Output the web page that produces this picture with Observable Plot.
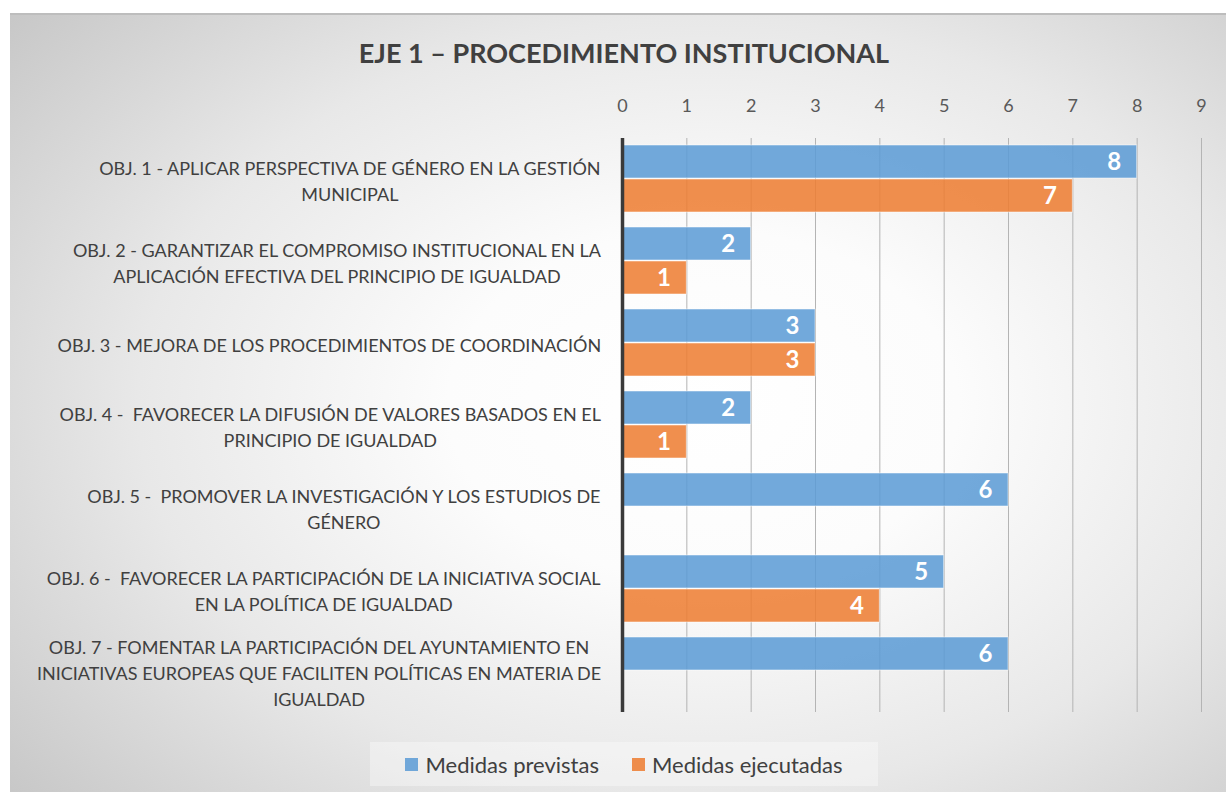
<!DOCTYPE html>
<html>
<head>
<meta charset="utf-8">
<script src="https://cdn.jsdelivr.net/npm/d3@7"></script>
<script src="https://cdn.jsdelivr.net/npm/@observablehq/plot@0.6"></script>
<style>
  html, body { margin: 0; padding: 0; background: #fff; }
  body { width: 1226px; height: 792px; position: relative; overflow: hidden; font-family: Lato, "Open Sans", sans-serif; }
  #frame { position: absolute; left: 10px; top: 13px; width: 1216px; height: 779px;
    border-top: 2px solid #bdbdbd;
    background: radial-gradient(ellipse 75% 80% at 57% 50%, #ffffff 0%, #fcfcfc 28%, #e8e8e8 62%, #c6c6c6 100%); }
  #title { position: absolute; left: 0; width: 1248px; top: 36px; text-align: center; font-weight: bold; font-size: 27px; color: #404040; }
  #chart { position: absolute; left: 0; top: 0; }
  #legend { position: absolute; left: 370px; top: 742px; width: 508px; height: 44px; background: rgba(255,255,255,0.35);
    display: flex; align-items: center; justify-content: center; gap: 33px; font-size: 22px; color: #404040; }
  .item { display: flex; align-items: center; gap: 7px; }
  .sw { width: 13px; height: 13px; }
</style>
</head>
<body>
<div id="frame"></div>
<div id="title">EJE 1 – PROCEDIMIENTO INSTITUCIONAL</div>
<div id="chart"></div>
<div id="legend"></div>
<script>
const categories = [
  "OBJ. 1 - APLICAR PERSPECTIVA DE GÉNERO EN LA GESTIÓN\nMUNICIPAL",
  "OBJ. 2 - GARANTIZAR EL COMPROMISO INSTITUCIONAL EN LA\nAPLICACIÓN EFECTIVA DEL PRINCIPIO DE IGUALDAD",
  "OBJ. 3 - MEJORA DE LOS PROCEDIMIENTOS DE COORDINACIÓN",
  "OBJ. 4 -  FAVORECER LA DIFUSIÓN DE VALORES BASADOS EN EL\nPRINCIPIO DE IGUALDAD",
  "OBJ. 5 -  PROMOVER LA INVESTIGACIÓN Y LOS ESTUDIOS DE\nGÉNERO",
  "OBJ. 6 -  FAVORECER LA PARTICIPACIÓN DE LA INICIATIVA SOCIAL\nEN LA POLÍTICA DE IGUALDAD",
  "OBJ. 7 - FOMENTAR LA PARTICIPACIÓN DEL AYUNTAMIENTO EN\nINICIATIVAS EUROPEAS QUE FACILITEN POLÍTICAS EN MATERIA DE\nIGUALDAD"
];
const previstas  = [8, 2, 3, 2, 6, 5, 6];
const ejecutadas = [7, 1, 3, 1, null, 4, null];
const series = ["Medidas previstas", "Medidas ejecutadas"];
const colors = ["#5b9bd5", "#ed7d31"];
const xTicks = [0, 1, 2, 3, 4, 5, 6, 7, 8, 9];

const rows = [];
categories.forEach((c, i) => {
  if (previstas[i] != null) rows.push({cat: c, series: series[0], value: previstas[i]});
  if (ejecutadas[i] != null) rows.push({cat: c, series: series[1], value: ejecutadas[i]});
});

// measure label blocks so each centred block ends at the same right edge
const ctx = document.createElement("canvas").getContext("2d");
ctx.font = "18px Lato";
const blockWidth = s => Math.max(...s.split("\n").map(l => ctx.measureText(l).width));

const labelMarks = categories.map(c => Plot.text([c], {
  fy: d => d, text: d => d, frameAnchor: "left", textAnchor: "middle",
  dx: -21 - blockWidth(c) / 2, fontSize: 18, fill: "#404040", lineHeight: 1.45
}));

const chart = Plot.plot({
  width: 1226,
  height: 717,
  marginLeft: 622,
  marginRight: 25,
  marginTop: 138,
  marginBottom: 5,
  style: {background: "transparent", fontFamily: "Lato, 'Open Sans', sans-serif", overflow: "visible"},
  x: {domain: [0, 9]},
  fy: {domain: categories, padding: 0, axis: null},
  y: {domain: series, paddingInner: 0.02, paddingOuter: 0.19, axis: null},
  color: {domain: series, range: colors},
  marks: [
    Plot.gridX(xTicks, {stroke: "#b4b4b4", strokeOpacity: 1, strokeWidth: 1}),
    Plot.barX(rows, {x: "value", y: "series", fy: "cat", fill: "series", fillOpacity: 0.86,
      stroke: "#ffffff", strokeOpacity: 0.5, strokeWidth: 1}),
    Plot.ruleX([0], {stroke: "#3a3a3a", strokeWidth: 3.5}),
    Plot.text(rows, {x: "value", y: "series", fy: "cat", text: d => String(d.value),
      textAnchor: "end", dx: -16, fill: "white", fontWeight: "bold", fontSize: 24}),
    Plot.axisX(xTicks, {anchor: "top", tickSize: 0, tickPadding: 27, fontSize: 18, fill: "#595959", label: null}),
    ...labelMarks
  ]
});
document.getElementById("chart").appendChild(chart);

const legend = document.getElementById("legend");
series.forEach((s, i) => {
  const item = document.createElement("div");
  item.className = "item";
  const sw = document.createElement("div");
  sw.className = "sw";
  sw.style.background = colors[i];
  sw.style.opacity = 0.86;
  const t = document.createElement("span");
  t.textContent = s;
  item.appendChild(sw);
  item.appendChild(t);
  legend.appendChild(item);
});
</script>
</body>
</html>
